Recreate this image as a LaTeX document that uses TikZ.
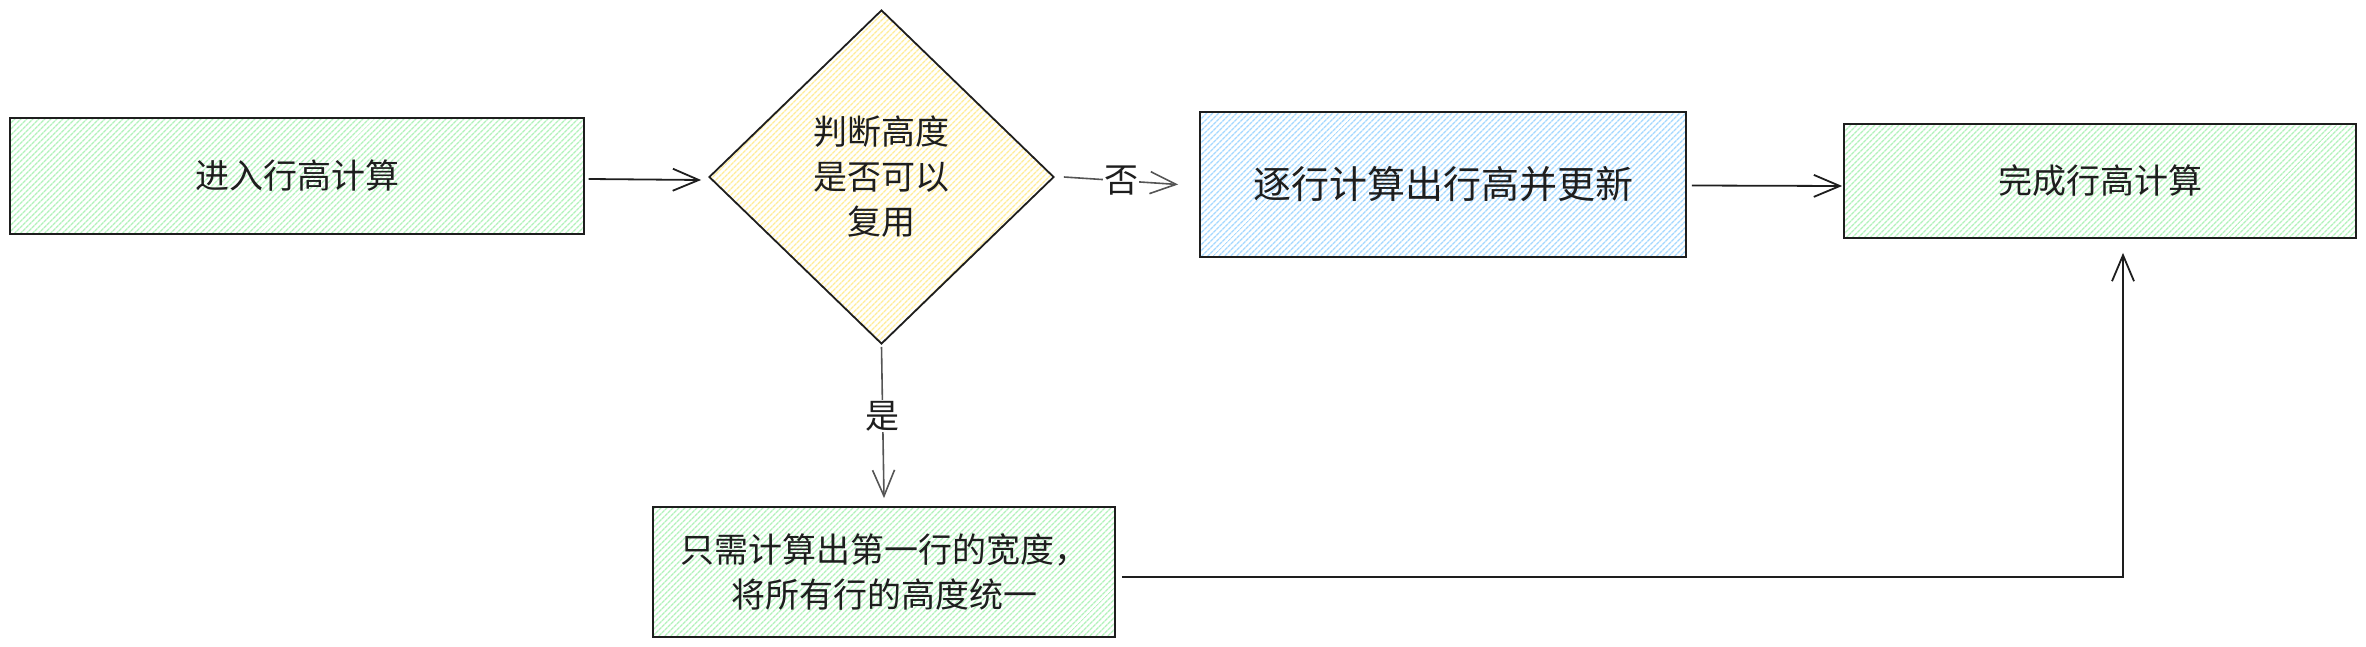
\documentclass[tikz,border=0pt]{standalone}
\usepackage{fontspec}
\setmainfont{Noto Sans CJK SC}
\usetikzlibrary{shapes.geometric,arrows.meta,patterns.meta}
\definecolor{ink}{HTML}{1E1E1E}
\definecolor{hgreen}{HTML}{B2F2BB}
\definecolor{hblue}{HTML}{A5D8FF}
\definecolor{hyellow}{HTML}{FFEC99}
\definecolor{lgray}{HTML}{555555}
\tikzset{
  hatch/.style={pattern={Lines[angle=45,distance=4pt,line width=1.4pt]},pattern color=#1},
  boxnode/.style={draw=ink,line width=1.8pt,rectangle,inner sep=0pt,align=center,text=ink,font=\fontsize{34}{45}\selectfont},
  decnode/.style={draw=ink,line width=1.8pt,diamond,inner sep=0pt,align=center,text=ink,font=\fontsize{34}{45}\selectfont},
  conn/.style={draw=ink,line width=1.8pt,-{Straight Barb[length=26pt,width=22pt,line width=1.8pt]}},
  lconn/.style={draw=lgray,line width=1.6pt,-{Straight Barb[length=26pt,width=22pt,line width=1.6pt]}},
  lbl/.style={fill=white,inner sep=1pt,text=ink,font=\fontsize{34}{36}\selectfont},
}
\begin{document}
\begin{tikzpicture}[x=1pt,y=-1pt]
\useasboundingbox (0,0) rectangle (2366,647);
\node[boxnode,hatch=hgreen,minimum width=574pt,minimum height=116pt] (b1) at (297,176) {进入行高计算};
\node[decnode,hatch=hyellow,minimum width=345pt,minimum height=334pt] (d) at (881.5,177) {判断高度\\是否可以\\复用};
\node[boxnode,hatch=hblue,minimum width=486pt,minimum height=145pt,font=\fontsize{38}{45}\selectfont] (b2) at (1443,184.5) {逐行计算出行高并更新};
\node[boxnode,hatch=hgreen,minimum width=512pt,minimum height=114pt] (b3) at (2100,181) {完成行高计算};
\node[boxnode,hatch=hgreen,minimum width=462pt,minimum height=130pt] (b4) at (884,572) {只需计算出第一行的宽度，\\将所有行的高度统一};
\coordinate (c1) at ([xshift=23pt,yshift=-5pt]b3.south |- b4.east);
\draw[conn] ([xshift=4pt,yshift=-3pt]b1.east) -- ([xshift=-7pt,yshift=-3pt]d.west);
\draw[lconn] ([xshift=9pt]d.east) -- node[lbl] {否} ([xshift=-21pt]b2.west);
\draw[conn] ([xshift=5pt,yshift=-1pt]b2.east) -- ([xshift=-1pt,yshift=-5pt]b3.west);
\draw[lconn] ([yshift=-2pt]d.south) -- node[lbl,pos=0.46] {是} ([yshift=8pt]b4.north);
\draw[conn] ([xshift=6pt,yshift=-5pt]b4.east) -- (c1) -- ([xshift=23pt,yshift=-14pt]b3.south);
\end{tikzpicture}
\end{document}
